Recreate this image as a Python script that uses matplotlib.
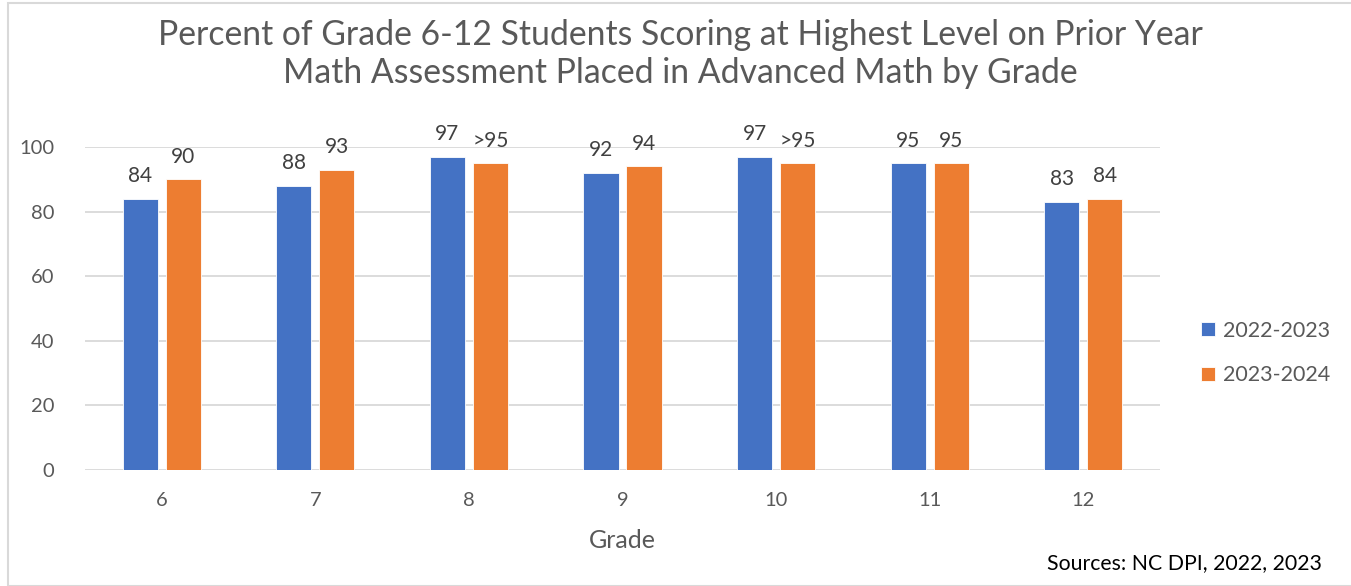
import matplotlib
matplotlib.use("Agg")
import matplotlib.pyplot as plt
import numpy as np
from matplotlib.patches import Rectangle

grades = ["6", "7", "8", "9", "10", "11", "12"]
series_names = ["2022-2023", "2023-2024"]
vals_2223 = [84, 88, 97, 92, 97, 95, 83]
vals_2324 = [90, 93, 95, 94, 95, 95, 84]
labels_2223 = ["84", "88", "97", "92", "97", "95", "83"]
labels_2324 = ["90", "93", ">95", "94", ">95", "95", "84"]
yticks = [0, 20, 40, 60, 80, 100]

title = "Percent of Grade 6-12 Students Scoring at Highest Level on Prior Year\nMath Assessment Placed in Advanced Math by Grade"
FONT = "Lato"
plt.rcParams['font.family'] = [FONT, 'DejaVu Sans']

fig = plt.figure(figsize=(13.51, 5.86), dpi=100)
# chart border
fig.patches.append(Rectangle((8/1351, 0), 1.1, 1 - 2.5/586, transform=fig.transFigure,
                             fill=False, edgecolor="#D9D9D9", linewidth=1.5, zorder=0))

ax = fig.add_axes([85/1351, 1 - 470/586, (1160-85)/1351, (470-147)/586])
x = np.arange(len(grades))
w = 0.228
off = 0.14
colors = ["#4472C4", "#ED7D31"]
for vals, labs, o, c, name in [(vals_2223, labels_2223, -off, colors[0], series_names[0]),
                               (vals_2324, labels_2324, off, colors[1], series_names[1])]:
    bars = ax.bar(x + o, vals, width=w, color=c, label=name, zorder=2,
                  edgecolor="white", linewidth=0.6)
    for b, l in zip(bars, labs):
        ax.annotate(l, (b.get_x() + b.get_width()/2, b.get_height()),
                    xytext=(0, 9), textcoords="offset points", ha="center", va="bottom",
                    fontsize=15, color="#404040")

ax.set_xlim(-0.5, len(grades) - 0.5)
ax.set_ylim(0, 100)
ax.set_yticks(yticks)
ax.set_xticks(x)
ax.set_xticklabels(grades)
ax.tick_params(axis="both", length=0, labelsize=14.5, labelcolor="#595959")
ax.tick_params(axis="x", pad=16)
ax.tick_params(axis="y", pad=22)
ax.grid(axis="y", color="#D9D9D9", linewidth=1.3, zorder=0)
ax.set_axisbelow(True)
for s in ax.spines.values():
    s.set_visible(False)
ax.set_xlabel("Grade", fontsize=18, color="#595959", labelpad=14)

fig.text(680/1351, 1 - 54/586, title, ha="center", va="center", fontsize=24.3,
         color="#595959", linespacing=1.22)

leg = fig.legend(loc="center left", bbox_to_anchor=(1201/1351, 1 - 353/586),
                 frameon=False, fontsize=15.5, handlelength=0.65, handleheight=0.65,
                 handletextpad=0.35, labelspacing=1.15, borderpad=0, borderaxespad=0,
                 labelcolor="#595959")

fig.text(1322/1351, 1 - 563/586, "Sources: NC DPI, 2022, 2023", ha="right", va="center",
         fontsize=15.3, color="black")

fig.savefig("out.png", dpi=100)
